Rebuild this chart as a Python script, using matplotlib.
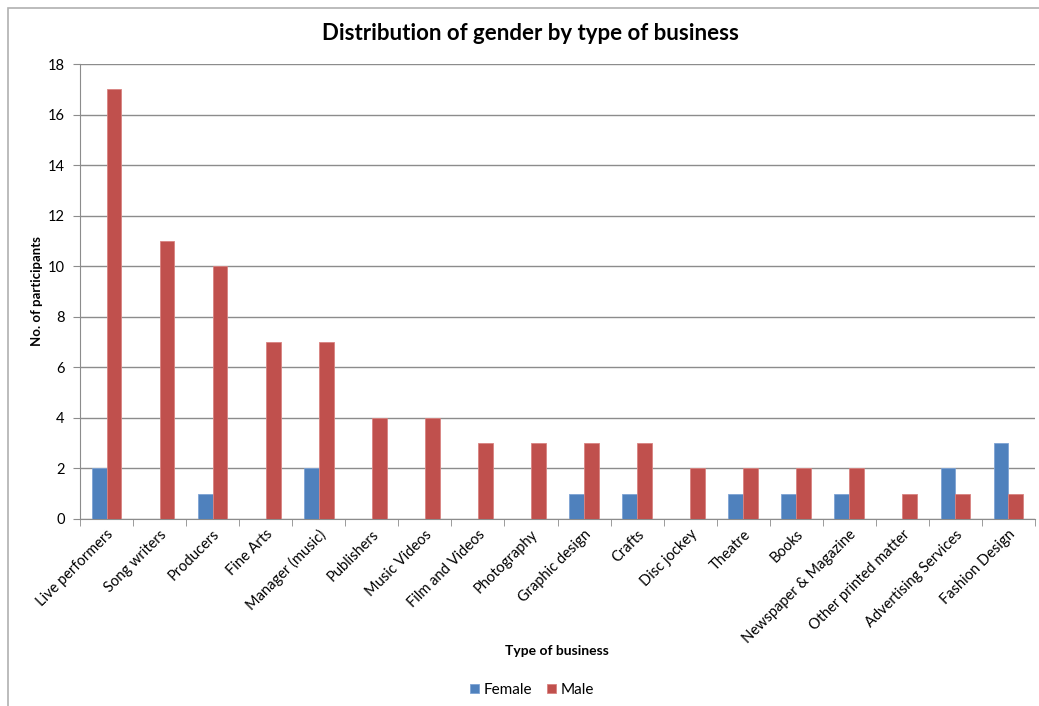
import numpy as np
import matplotlib.pyplot as plt
from matplotlib.patches import Rectangle

categories = ['Live performers', 'Song writers', 'Producers', 'Fine Arts', 'Manager (music)',
              'Publishers', 'Music Videos', 'Film and Videos', 'Photography', 'Graphic design',
              'Crafts', 'Disc jockey', 'Theatre', 'Books', 'Newspaper & Magazine',
              'Other printed matter', 'Advertising Services', 'Fashion Design']
female = [2, 0, 1, 0, 2, 0, 0, 0, 0, 1, 1, 0, 1, 1, 1, 0, 2, 3]
male = [17, 11, 10, 7, 7, 4, 4, 3, 3, 3, 3, 2, 2, 2, 2, 1, 1, 1]

plt.rcParams['font.family'] = ['Lato', 'DejaVu Sans']

fig = plt.figure(figsize=(10.39, 7.06), dpi=100)
ax = fig.add_axes([80 / 1039, 1 - 519 / 706, 955 / 1039, 455 / 706])

# chart frame (left and top edges only show)
fig.patches.append(Rectangle((8 / 1039, -0.1), 1.2, 1 - 8 / 706 + 0.1, transform=fig.transFigure,
                             fill=False, edgecolor='#b0b0b0', linewidth=1.2))

x = np.arange(len(categories))
w = 0.28
ax.bar(x - w / 2, female, w, color='#4F81BD', edgecolor='#7ea3d4', linewidth=0.6, label='Female', zorder=3)
ax.bar(x + w / 2, male, w, color='#C0504D', edgecolor='#d98380', linewidth=0.6, label='Male', zorder=3)

ax.set_xlim(-0.5, len(categories) - 0.5)
ax.set_ylim(0, 18)
ax.set_yticks(range(0, 19, 2))
ax.yaxis.grid(True, color='#8c8c8c', linewidth=1)
ax.set_axisbelow(True)

ax.set_xticks(x)
ax.set_xticklabels(categories, rotation=45, ha='right', rotation_mode='anchor', fontsize=10.5)
ax.set_xticks(np.arange(-0.5, len(categories)), minor=True)
ax.tick_params(axis='x', which='major', length=0, pad=6)
ax.tick_params(axis='x', which='minor', length=5, color='#8c8c8c', direction='out')
ax.tick_params(axis='y', length=5, color='#8c8c8c', labelsize=10.5, pad=6)

for side in ['top', 'right']:
    ax.spines[side].set_visible(False)
for side in ['left', 'bottom']:
    ax.spines[side].set_color('#8c8c8c')

fig.text(530 / 1039, 1 - 33 / 706, 'Distribution of gender by type of business',
         ha='center', va='center', fontsize=16, fontweight='bold')
fig.text(557 / 1039, 1 - 651 / 706, 'Type of business', ha='center', va='center',
         fontsize=10, fontweight='bold')
fig.text(37 / 1039, 1 - 291 / 706, 'No. of participants', ha='center', va='center',
         rotation=90, fontsize=9.5, fontweight='bold')

fig.legend(loc='center', bbox_to_anchor=(532 / 1039, 1 - 690 / 706), ncol=2, frameon=False,
           fontsize=11, handlelength=0.6, handleheight=0.6, handletextpad=0.3, columnspacing=1.0)

fig.savefig('out.png', dpi=100)
